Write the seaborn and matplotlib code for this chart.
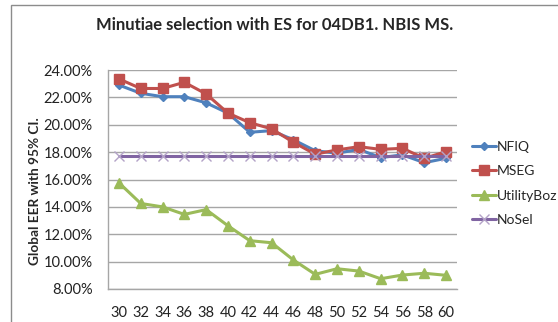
import matplotlib
matplotlib.use("Agg")
import matplotlib.pyplot as plt
import matplotlib.patches as mpatches
from matplotlib.ticker import FuncFormatter
import pandas as pd
import seaborn as sns

# Minutiae count (x) and global EER (%) per selection method
minutiae = [30, 32, 34, 36, 38, 40, 42, 44, 46, 48, 50, 52, 54, 56, 58, 60]
nfiq = [22.90, 22.30, 22.05, 22.05, 21.60, 20.85, 19.45, 19.57, 18.90, 18.10,
        17.92, 18.20, 17.60, 17.80, 17.23, 17.55]
mseg = [23.35, 22.65, 22.65, 23.10, 22.25, 20.85, 20.15, 19.70, 18.72, 17.85,
        18.16, 18.40, 18.20, 18.28, 17.55, 18.03]
utility = [15.76, 14.25, 14.00, 13.45, 13.80, 12.62, 11.53, 11.38, 10.12, 9.07,
           9.48, 9.31, 8.75, 9.02, 9.15, 9.00]
nosel = [17.72] * len(minutiae)

series_names = ["NFIQ", "MSEG", "UtilityBoz", "NoSel"]
y_ticks = [8, 10, 12, 14, 16, 18, 20, 22, 24]

df = pd.concat([
    pd.DataFrame({"n": minutiae, "eer": vals, "method": name})
    for name, vals in zip(series_names, [nfiq, mseg, utility, nosel])
])

sns.set_style("white")
plt.rcParams["font.family"] = ["Lato", "DejaVu Sans"]

palette = {"NFIQ": "#4F81BD", "MSEG": "#C0504D", "UtilityBoz": "#9BBB59", "NoSel": "#8064A2"}
markers = {"NFIQ": "D", "MSEG": "s", "UtilityBoz": "^", "NoSel": "x"}
msizes = {"NFIQ": 4.5, "MSEG": 6.5, "UtilityBoz": 6.5, "NoSel": 7}
medge = {"NFIQ": "#4F81BD", "MSEG": "#C0504D", "UtilityBoz": "#9BBB59", "NoSel": "#B3A2C7"}

fig = plt.figure(figsize=(5.58, 3.22), dpi=100)
ax = fig.add_axes([108 / 558, 1 - 289 / 322, (457 - 108) / 558, (289 - 70) / 322])

for name in series_names:
    sub = df[df["method"] == name]
    sns.lineplot(data=sub, x="n", y="eer", color=palette[name], marker=markers[name],
                 markersize=msizes[name], markeredgecolor=medge[name],
                 markeredgewidth=1.0, linewidth=2.2, ax=ax, label=name)
ax.get_legend().remove()

ax.set_xlim(29, 61)
ax.set_ylim(8, 24)
ax.set_xticks(minutiae)
ax.set_yticks(y_ticks)
ax.yaxis.set_major_formatter(FuncFormatter(lambda v, _: f"{v:.2f}%"))
ax.tick_params(axis="both", length=0, labelsize=10.5, colors="#222222")
ax.tick_params(axis="x", pad=12)
ax.tick_params(axis="y", pad=11)
ax.grid(axis="y", color="#A6A6A6", linewidth=1.0)
ax.set_axisbelow(True)
for side in ["top", "right"]:
    ax.spines[side].set_visible(False)
for side in ["left", "bottom"]:
    ax.spines[side].set_color("#A6A6A6")
    ax.spines[side].set_linewidth(1.0)
ax.set_xlabel("")
ax.set_ylabel("")

fig.text(35 / 558, 1 - 191 / 322, "Global EER with 95% CI.", rotation=90,
         ha="center", va="center", fontsize=9.8, fontweight="bold")
fig.text(275 / 558, 1 - 25 / 322, "Minutiae selection with ES for 04DB1. NBIS MS.",
         ha="center", va="center", fontsize=12, fontweight="bold")

handles, labels = ax.get_legend_handles_labels()
fig.legend(handles, labels, loc="upper left",
           bbox_to_anchor=(466 / 558, 1 - 135 / 322), frameon=False,
           fontsize=10, handlelength=1.75, handletextpad=0.1, labelspacing=0.9,
           borderaxespad=0)

# chart area border
fig.add_artist(mpatches.Rectangle((11 / 558, -0.1), 1.2, 1 - 5 / 322 + 0.1,
                                  transform=fig.transFigure, fill=False,
                                  edgecolor="#8C8C8C", linewidth=1.0))

fig.savefig("out.png", dpi=100)
